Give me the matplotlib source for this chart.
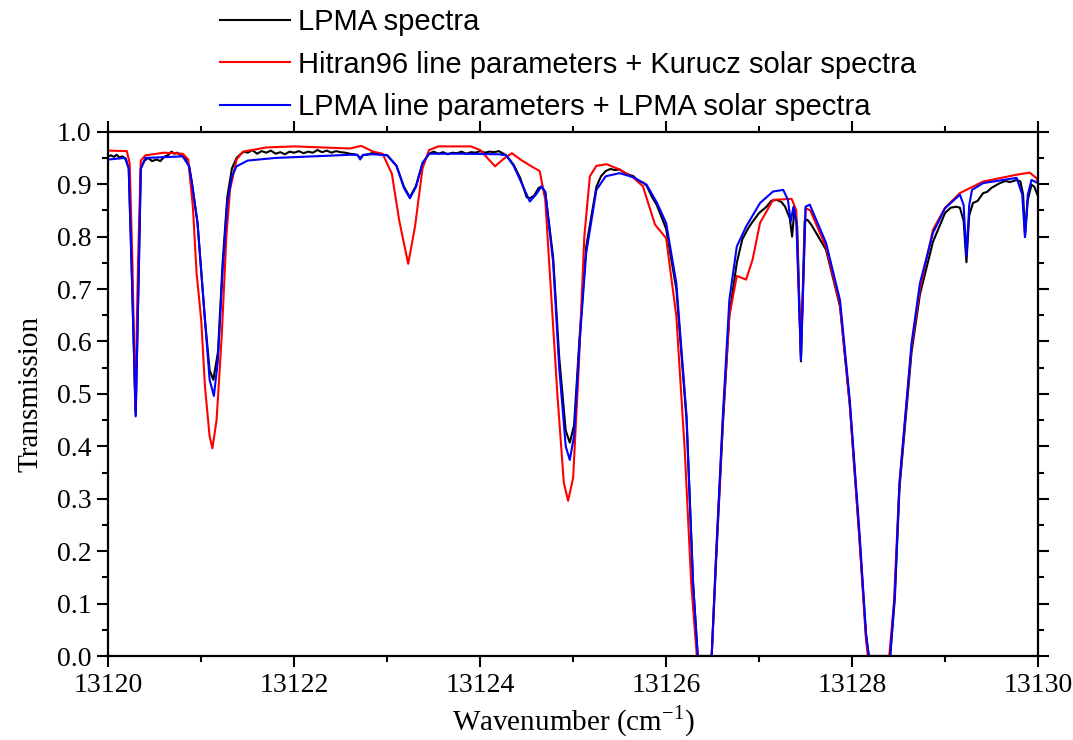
import matplotlib
matplotlib.use('Agg')
import matplotlib.pyplot as plt
from matplotlib.ticker import MultipleLocator, FormatStrFormatter

lpma_x = [13120.00, 13120.03, 13120.06, 13120.09, 13120.12, 13120.15, 13120.19, 13120.22, 13120.25, 13120.295,
          13120.33, 13120.35, 13120.39, 13120.43, 13120.47, 13120.52, 13120.56, 13120.60, 13120.64, 13120.68,
          13120.71, 13120.74, 13120.78, 13120.82, 13120.87, 13120.90, 13120.96, 13121.04, 13121.09, 13121.13,
          13121.18, 13121.23, 13121.28, 13121.33, 13121.38, 13121.42, 13121.46, 13121.50, 13121.55, 13121.60,
          13121.65, 13121.70, 13121.75, 13121.80, 13121.85, 13121.90, 13121.95, 13122.00, 13122.05, 13122.10,
          13122.15, 13122.20, 13122.25, 13122.30, 13122.35, 13122.40, 13122.45, 13122.50, 13122.55, 13122.60,
          13122.65, 13122.68, 13122.71, 13122.74, 13122.80, 13122.85, 13122.90, 13123.00, 13123.10, 13123.18,
          13123.244, 13123.31, 13123.38, 13123.45, 13123.50, 13123.55, 13123.60, 13123.65, 13123.70, 13123.75,
          13123.80, 13123.85, 13123.90, 13123.95, 13124.00, 13124.05, 13124.10, 13124.15, 13124.20, 13124.28,
          13124.36, 13124.43, 13124.50, 13124.534, 13124.58, 13124.63, 13124.66, 13124.70, 13124.785, 13124.85,
          13124.92, 13124.964, 13125.01, 13125.07, 13125.14, 13125.25, 13125.30, 13125.35, 13125.40, 13125.45,
          13125.50, 13125.55, 13125.60, 13125.65, 13125.70, 13125.75, 13125.79, 13125.85, 13125.90, 13126.00,
          13126.11, 13126.22, 13126.29, 13126.34, 13126.49, 13126.54, 13126.61, 13126.68, 13126.76, 13126.82,
          13126.88, 13126.92, 13127.00, 13127.08, 13127.13, 13127.19, 13127.24, 13127.28, 13127.33, 13127.355,
          13127.38, 13127.41, 13127.45, 13127.49, 13127.52, 13127.56, 13127.72, 13127.87, 13127.975, 13128.08,
          13128.15, 13128.18, 13128.41, 13128.46, 13128.51, 13128.64, 13128.73, 13128.87, 13129.00, 13129.06,
          13129.12, 13129.16, 13129.20, 13129.23, 13129.26, 13129.30, 13129.35, 13129.41, 13129.45, 13129.50,
          13129.55, 13129.59, 13129.65, 13129.70, 13129.77, 13129.81, 13129.84, 13129.86, 13129.89, 13129.93,
          13129.96, 13130.00]
lpma_y = [0.953, 0.955, 0.952, 0.956, 0.951, 0.953, 0.948, 0.93, 0.75, 0.46,
          0.75, 0.93, 0.945, 0.950, 0.944, 0.947, 0.944, 0.952, 0.955, 0.962,
          0.958, 0.960, 0.955, 0.952, 0.934, 0.902, 0.826, 0.641, 0.545, 0.527,
          0.58, 0.75, 0.875, 0.93, 0.950, 0.957, 0.962, 0.960, 0.965, 0.958,
          0.963, 0.960, 0.964, 0.958, 0.961, 0.957, 0.962, 0.960, 0.963, 0.959,
          0.962, 0.960, 0.965, 0.961, 0.964, 0.960, 0.963, 0.961, 0.960, 0.958,
          0.957, 0.955, 0.950, 0.955, 0.957, 0.960, 0.958, 0.955, 0.935, 0.895,
          0.875, 0.897, 0.94, 0.958, 0.962, 0.958, 0.961, 0.957, 0.960, 0.959,
          0.962, 0.958, 0.961, 0.960, 0.963, 0.960, 0.962, 0.961, 0.963, 0.955,
          0.937, 0.912, 0.875, 0.873, 0.878, 0.893, 0.895, 0.885, 0.76, 0.57,
          0.43, 0.407, 0.44, 0.61, 0.78, 0.895, 0.915, 0.925, 0.929, 0.927,
          0.928, 0.922, 0.918, 0.915, 0.906, 0.903, 0.897, 0.875, 0.86, 0.815,
          0.70, 0.45, 0.139, 0.0, 0.0, 0.19, 0.44, 0.65, 0.75, 0.795,
          0.815, 0.826, 0.845, 0.857, 0.868, 0.870, 0.866, 0.857, 0.835, 0.80,
          0.852, 0.82, 0.562, 0.83, 0.832, 0.823, 0.775, 0.667, 0.48, 0.225,
          0.04, 0.0, 0.0, 0.11, 0.32, 0.58, 0.69, 0.79, 0.845, 0.855,
          0.857, 0.855, 0.83, 0.751, 0.84, 0.864, 0.868, 0.883, 0.885, 0.893,
          0.898, 0.902, 0.906, 0.904, 0.908, 0.905, 0.88, 0.80, 0.87, 0.899,
          0.895, 0.877]

# Hitran96 line parameters + Kurucz solar spectrum
hitran_x = [13120.00, 13120.20, 13120.23, 13120.26, 13120.29, 13120.32, 13120.35, 13120.40, 13120.60, 13120.80,
            13120.86, 13120.91, 13120.95, 13121.00, 13121.04, 13121.09, 13121.12, 13121.165, 13121.22, 13121.27,
            13121.31, 13121.38, 13121.45, 13121.70, 13122.00, 13122.30, 13122.60, 13122.72, 13122.85, 13122.95,
            13123.05, 13123.13, 13123.226, 13123.30, 13123.38, 13123.45, 13123.55, 13123.90, 13124.00, 13124.16,
            13124.25, 13124.34, 13124.45, 13124.57, 13124.64, 13124.70, 13124.76, 13124.83, 13124.90, 13124.946,
            13125.00, 13125.06, 13125.12, 13125.18, 13125.25, 13125.36, 13125.50, 13125.65, 13125.75, 13125.88,
            13126.00, 13126.11, 13126.20, 13126.27, 13126.33, 13126.49, 13126.54, 13126.61, 13126.68, 13126.76,
            13126.86, 13126.93, 13127.01, 13127.15, 13127.35, 13127.40, 13127.45, 13127.50, 13127.55, 13127.72,
            13127.87, 13127.975, 13128.08, 13128.15, 13128.17, 13128.40, 13128.45, 13128.51, 13128.64, 13128.73,
            13128.87, 13129.00, 13129.16, 13129.41, 13129.77, 13129.91, 13129.98, 13130.00]
hitran_y = [0.964, 0.963, 0.94, 0.75, 0.47, 0.75, 0.945, 0.955, 0.960, 0.958,
            0.947, 0.857, 0.73, 0.640, 0.514, 0.419, 0.396, 0.45, 0.609, 0.80,
            0.89, 0.947, 0.962, 0.970, 0.972, 0.970, 0.968, 0.973, 0.962, 0.958,
            0.92, 0.83, 0.748, 0.82, 0.93, 0.965, 0.972, 0.972, 0.965, 0.934,
            0.948, 0.959, 0.945, 0.932, 0.925, 0.87, 0.70, 0.50, 0.33, 0.296,
            0.34, 0.55, 0.80, 0.915, 0.935, 0.938, 0.928, 0.912, 0.896, 0.823,
            0.797, 0.648, 0.393, 0.139, 0.0, 0.0, 0.20, 0.45, 0.648, 0.725,
            0.718, 0.756, 0.826, 0.870, 0.872, 0.85, 0.57, 0.854, 0.850, 0.780,
            0.67, 0.48, 0.22, 0.03, 0.0, 0.0, 0.10, 0.33, 0.59, 0.70,
            0.813, 0.855, 0.883, 0.905, 0.918, 0.922, 0.912, 0.905]

# LPMA line parameters + LPMA solar spectrum
lpma_fit_x = [13120.00, 13120.18, 13120.22, 13120.25, 13120.295, 13120.33, 13120.35, 13120.40, 13120.80, 13120.87,
              13120.90, 13120.96, 13121.04, 13121.09, 13121.136, 13121.18, 13121.23, 13121.28, 13121.33, 13121.38,
              13121.50, 13121.80, 13122.20, 13122.60, 13122.68, 13122.71, 13122.74, 13122.85, 13123.00, 13123.10,
              13123.18, 13123.244, 13123.31, 13123.38, 13123.45, 13123.80, 13124.20, 13124.28, 13124.36, 13124.43,
              13124.534, 13124.60, 13124.66, 13124.70, 13124.785, 13124.85, 13124.92, 13124.964, 13125.01, 13125.07,
              13125.14, 13125.25, 13125.35, 13125.50, 13125.65, 13125.79, 13125.90, 13126.00, 13126.11, 13126.22,
              13126.29, 13126.34, 13126.49, 13126.54, 13126.61, 13126.68, 13126.76, 13126.86, 13127.01, 13127.15,
              13127.26, 13127.31, 13127.34, 13127.37, 13127.40, 13127.45, 13127.50, 13127.545, 13127.72, 13127.87,
              13127.975, 13128.08, 13128.15, 13128.18, 13128.41, 13128.46, 13128.51, 13128.64, 13128.73, 13128.87,
              13129.00, 13129.16, 13129.20, 13129.23, 13129.26, 13129.29, 13129.41, 13129.77, 13129.83, 13129.86,
              13129.89, 13129.93, 13130.00]
lpma_fit_y = [0.947, 0.950, 0.93, 0.75, 0.457, 0.75, 0.93, 0.95, 0.953, 0.934,
              0.902, 0.826, 0.641, 0.527, 0.496, 0.565, 0.737, 0.864, 0.915, 0.934,
              0.945, 0.950, 0.953, 0.956, 0.956, 0.947, 0.956, 0.957, 0.955, 0.935,
              0.893, 0.873, 0.895, 0.94, 0.958, 0.958, 0.957, 0.955, 0.935, 0.908,
              0.867, 0.88, 0.896, 0.885, 0.75, 0.55, 0.40, 0.374, 0.42, 0.60,
              0.768, 0.889, 0.915, 0.921, 0.913, 0.899, 0.865, 0.826, 0.711, 0.457,
              0.139, 0.0, 0.0, 0.202, 0.457, 0.679, 0.781, 0.819, 0.864, 0.886,
              0.889, 0.870, 0.829, 0.857, 0.83, 0.565, 0.857, 0.861, 0.788, 0.679,
              0.489, 0.234, 0.043, 0.0, 0.0, 0.12, 0.33, 0.597, 0.711, 0.807,
              0.854, 0.880, 0.86, 0.762, 0.86, 0.889, 0.902, 0.912, 0.88, 0.799,
              0.88, 0.908, 0.902]

series_labels = ['LPMA spectra',
                 'Hitran96 line parameters + Kurucz solar spectra',
                 'LPMA line parameters + LPMA solar spectra']

fig = plt.figure(figsize=(10.73, 7.40), dpi=100)
ax = fig.add_axes([0.1009, 0.1135, 0.8665, 0.7085])

l1, = ax.plot(lpma_x, lpma_y, color='black', lw=1.5)
l2, = ax.plot(hitran_x, hitran_y, color='#ff0000', lw=1.5)
l3, = ax.plot(lpma_fit_x, lpma_fit_y, color='#0000ff', lw=1.5)

ax.set_xlim(13120, 13130)
ax.set_ylim(0, 1.0)
ax.xaxis.set_major_locator(MultipleLocator(2))
ax.xaxis.set_minor_locator(MultipleLocator(1))
ax.yaxis.set_major_locator(MultipleLocator(0.1))
ax.yaxis.set_minor_locator(MultipleLocator(0.05))
ax.yaxis.set_major_formatter(FormatStrFormatter('%.1f'))
ax.xaxis.set_major_formatter(FormatStrFormatter('%d'))

for sp in ax.spines.values():
    sp.set_linewidth(1.6)
ax.tick_params(which='both', direction='out', top=True, right=True, width=1.5)
ax.tick_params(which='major', length=8)
ax.tick_params(which='minor', length=4)
ax.tick_params(labelsize=20, pad=4)
for lab in ax.get_xticklabels() + ax.get_yticklabels():
    lab.set_family('Liberation Serif')

ax.set_xlabel('Wavenumber (cm$^{\\mathregular{-1}}$)', family='Liberation Serif', fontsize=21, labelpad=4)
ax.set_ylabel('Transmission', family='Liberation Serif', fontsize=21, labelpad=10)

leg = fig.legend([l1, l2, l3], series_labels, loc='upper left',
                 bbox_to_anchor=(220 / 1073, 1 - 8 / 740), frameon=False,
                 prop={'family': 'Liberation Sans', 'size': 21},
                 handlelength=2.4, handletextpad=0.28, labelspacing=0.5, borderpad=0, borderaxespad=0)
for h in leg.legend_handles:
    h.set_linewidth(1.5)

plt.savefig('out.png', dpi=100)
